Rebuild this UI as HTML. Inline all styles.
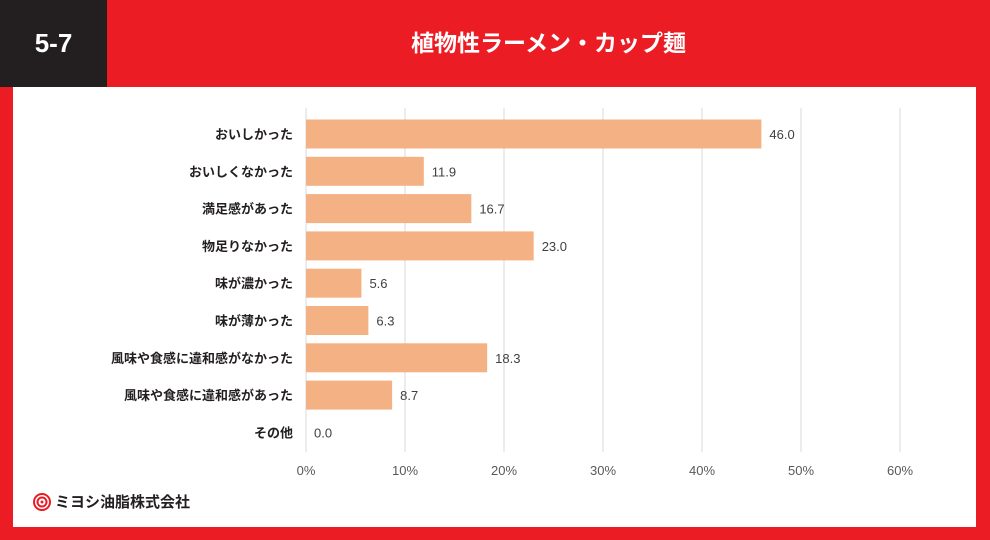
<!DOCTYPE html>
<html><head><meta charset="utf-8"><style>
body{margin:0;width:990px;height:540px;background:#EC1C24;position:relative;overflow:hidden;font-family:"Liberation Sans","Noto Sans CJK JP",sans-serif}
#hdr{position:absolute;left:0;top:0;width:107px;height:87px;background:#231F20;color:#fff;font-weight:bold;font-size:26px;line-height:87px;text-align:center}
#title{position:absolute;left:107px;right:0;top:0;height:87px;line-height:87px;text-align:center;color:#fff;font-weight:bold;font-size:23px}
#panel{position:absolute;left:13px;top:87px;width:963px;height:440px;background:#fff}
#logo{position:absolute;left:33px;top:491px;font-weight:bold;font-size:15px;color:#231F20;display:flex;align-items:center;gap:4px}
</style></head><body>
<div id="hdr">5-7</div>
<div id="title">植物性ラーメン・カップ麺</div>
<div id="panel"></div>
<svg id="chart" width="990" height="540" style="position:absolute;left:0;top:0"></svg>
<div id="logo"><svg width="18" height="18" viewBox="0 0 18 18"><circle cx="9" cy="9" r="8" fill="none" stroke="#EC1C24" stroke-width="2"/><circle cx="9" cy="9" r="4.5" fill="none" stroke="#EC1C24" stroke-width="2"/><circle cx="9" cy="9" r="1.5" fill="#EC1C24"/></svg>ミヨシ油脂株式会社</div>
<script>
const categories=["おいしかった","おいしくなかった","満足感があった","物足りなかった","味が濃かった","味が薄かった","風味や食感に違和感がなかった","風味や食感に違和感があった","その他"];
const values=[46.0,11.9,16.7,23.0,5.6,6.3,18.3,8.7,0.0];
const ticks=[0,10,20,30,40,50,60];
const NS="http://www.w3.org/2000/svg";
const svg=document.getElementById('chart');
const x0=306,x1=900,vmax=60;
const xs=v=>x0+(x1-x0)*v/vmax;
const y0=119.5,step=37.3,bh=29;
const ys=i=>y0+i*step;
function mk(t,a){const e=document.createElementNS(NS,t);for(const k in a)e.setAttribute(k,a[k]);svg.appendChild(e);return e;}
ticks.forEach(t=>{
 const l=mk('line',{x1:xs(t),x2:xs(t),y1:108,y2:452,stroke:'#D9D9D9','stroke-width':1});
 
 
 const tx=mk('text',{x:xs(t),y:475,'text-anchor':'middle','font-size':13,fill:'#595959'});
 tx.textContent=t+'%';
 
 
});
categories.forEach((c,i)=>{
 const r=mk('rect',{x:x0,y:ys(i),width:xs(values[i])-x0,height:bh,fill:'#F4B183'});
 
 
 const lb=mk('text',{x:293,y:ys(i)+bh/2+5,'text-anchor':'end','font-size':13,'font-weight':'bold',fill:'#231F20'});
 lb.textContent=c;
 
 
 const v=mk('text',{x:xs(values[i])+8,y:ys(i)+bh/2+5,'font-size':13,fill:'#404040'});
 v.textContent=values[i].toFixed(1);
 
 
});
</script>
</body></html>
